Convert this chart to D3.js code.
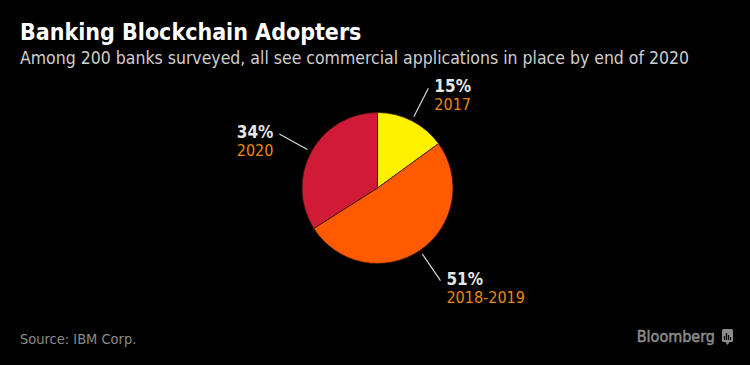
<!doctype html>
<html>
<head>
<meta charset="utf-8">
<title>Banking Blockchain Adopters</title>
<script src="https://cdnjs.cloudflare.com/ajax/libs/d3/7.8.5/d3.min.js"></script>
<style>
  body { margin: 0; background: #000; }
  text { font-family: "DejaVu Sans Condensed", "DejaVu Sans", sans-serif; }
</style>
</head>
<body>
<div id="chartContainer"></div>
<script type="text/javascript">

var categories = ["2017", "2018-2019", "2020"];
var shares = [15, 51, 34];
var sliceColors = ["#fff200", "#ff5a00", "#d11a37"];

var width = 750, height = 365;
var cx = 377.5, cy = 188, radius = 75.5;

var svg = d3.select("#chartContainer").append("svg")
    .attr("width", width)
    .attr("height", height)
    .style("background", "#000");

svg.append("text")
    .attr("x", 20).attr("y", 40)
    .style("font-size", "23px")
    .style("font-weight", "bold")
    .attr("fill", "#fff")
    .text("Banking Blockchain Adopters");

svg.append("text")
    .attr("x", 20).attr("y", 64)
    .style("font-size", "17.5px")
    .attr("fill", "#cfcfcf")
    .text("Among 200 banks surveyed, all see commercial applications in place by end of 2020");

var data = categories.map(function (c, i) { return {cat: c, value: shares[i], color: sliceColors[i]}; });

var pie = d3.pie().sort(null).value(function (d) { return d.value; });
var arcs = pie(data);

var arc = d3.arc().innerRadius(0).outerRadius(radius);

var g = svg.append("g").attr("transform", "translate(" + cx + "," + cy + ")");

g.selectAll("path")
    .data(arcs)
    .enter().append("path")
    .attr("d", arc)
    .attr("fill", function (d) { return d.data.color; })
    .attr("stroke", "#3a1a00")
    .attr("stroke-width", 0.8);

function polar(a, r) { return [Math.sin(a) * r, -Math.cos(a) * r]; }

var labels = g.selectAll("g.lbl")
    .data(arcs)
    .enter().append("g")
    .attr("class", "lbl");

labels.each(function (d) {
    var sel = d3.select(this);
    var mid = (d.startAngle + d.endAngle) / 2;
    var p0 = polar(mid, 80), p1 = polar(mid, 112);
    var right = Math.sin(mid) > 0;
    sel.append("line")
        .attr("x1", p0[0]).attr("y1", p0[1])
        .attr("x2", p1[0]).attr("y2", p1[1])
        .attr("stroke", "#d8d8d8")
        .attr("stroke-width", 1.2);
    var tx = p1[0] + (right ? 6 : -6);
    var anchor = right ? "start" : "end";
    sel.append("text")
        .attr("x", tx).attr("y", p1[1] + 4)
        .attr("text-anchor", anchor)
        .style("font-size", "17px")
        .style("font-weight", "bold")
        .attr("fill", "#e6e6e6")
        .text(d.data.value + "%");
    sel.append("text")
        .attr("x", tx).attr("y", p1[1] + 22)
        .attr("text-anchor", anchor)
        .style("font-size", "16px")
        .attr("fill", "#e8890c")
        .text(d.data.cat);
});

svg.append("text")
    .attr("x", 20).attr("y", 344)
    .style("font-size", "14.5px")
    .attr("fill", "#8a8a8a")
    .text("Source: IBM Corp.");

svg.append("text")
    .attr("x", 715).attr("y", 342)
    .attr("text-anchor", "end")
    .style("font-size", "16px")
    .attr("fill", "#8c8c8c")
    .attr("stroke", "#8c8c8c")
    .attr("stroke-width", 0.5)
    .text("Bloomberg");

var logo = svg.append("g").attr("transform", "translate(722,329)");
logo.append("rect")
    .attr("width", 11).attr("height", 13).attr("rx", 1.5)
    .attr("fill", "#8c8c8c");
logo.append("path")
    .attr("d", "M3.5,13 L5.5,16 L7.5,13 Z")
    .attr("fill", "#8c8c8c");
[[2.5, 7], [4.5, 4], [6.5, 6], [8.5, 8]].forEach(function (b) {
    logo.append("rect")
        .attr("x", b[0] - 0.6).attr("y", b[1])
        .attr("width", 1.2).attr("height", 11 - b[1])
        .attr("fill", "#000");
});

</script>
</body>
</html>
